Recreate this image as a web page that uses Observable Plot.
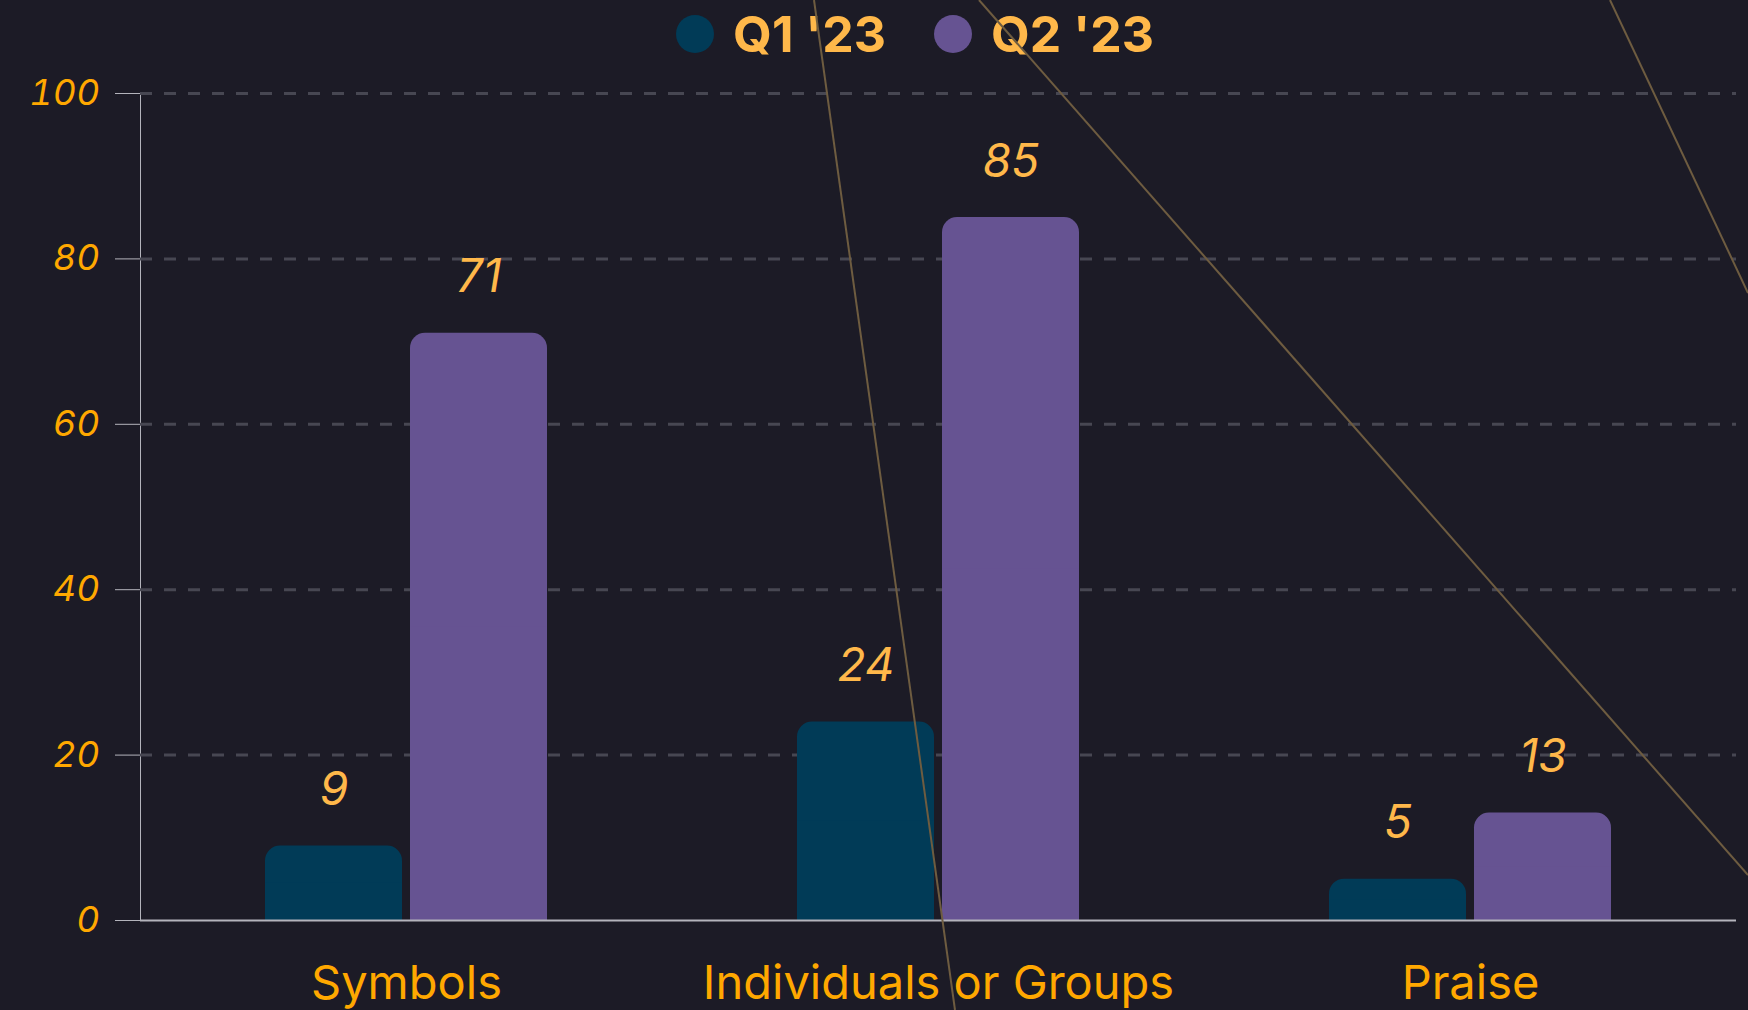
<!DOCTYPE html>
<html>
<head>
<meta charset="utf-8">
<script src="https://cdn.jsdelivr.net/npm/d3@7"></script>
<script src="https://cdn.jsdelivr.net/npm/@observablehq/plot@0.6"></script>
<style>
  html, body { margin: 0; padding: 0; background: #1c1b26; width: 1748px; height: 1010px; overflow: hidden; }
  #wrap { position: relative; width: 1748px; height: 1010px; }
  #legend { height: 68px; display: flex; align-items: center; justify-content: center; padding-left: 82px; box-sizing: border-box;
            font-family: Inter, "Noto Sans", sans-serif; font-weight: 700; font-size: 50px; color: #ffb84a; }
  #legend .item { display: flex; align-items: center; margin: 0 24px; }
  #legend .sw { width: 38px; height: 38px; border-radius: 50%; margin-right: 19px; }
  #chart svg { display: block; }
  #chart svg g[aria-label^="y-axis"] text { font-size: 36px; font-style: italic; fill: #ffa800; }
  #chart svg g[aria-label^="fx-axis"] text { font-size: 47px; fill: #ffa800; }
  #deco { position: absolute; left: 0; top: 0; pointer-events: none; }
</style>
</head>
<body>
<div id="wrap">
  <div id="legend"></div>
  <div id="chart"></div>
  <svg id="deco" width="1748" height="1010" viewBox="0 0 1748 1010">
    <g stroke="#6e5c40" stroke-width="2" fill="none">
      <line x1="814" y1="0" x2="955" y2="1010"></line>
      <line x1="979" y1="0" x2="1748" y2="875"></line>
      <line x1="1610" y1="0" x2="1748" y2="293"></line>
    </g>
  </svg>
</div>
<script>
// ---- data ----
const categories = ["Symbols", "Individuals or Groups", "Praise"];
const series = ["Q1 '23", "Q2 '23"];
const q1Values = [9, 24, 5];
const q2Values = [71, 85, 13];
const yTicks = [0, 20, 40, 60, 80, 100];
const seriesColors = ["#013b57", "#665392"];

// table built from the arrays
const rows = [];
categories.forEach((c, i) => {
  rows.push({category: c, series: series[0], value: q1Values[i]});
  rows.push({category: c, series: series[1], value: q2Values[i]});
});

// legend
const legend = document.getElementById("legend");
series.forEach((s, i) => {
  const item = document.createElement("div");
  item.className = "item";
  const sw = document.createElement("div");
  sw.className = "sw";
  sw.style.background = seriesColors[i];
  const label = document.createElement("span");
  label.textContent = s;
  item.appendChild(sw);
  item.appendChild(label);
  legend.appendChild(item);
});

const chart = Plot.plot({
  width: 1748,
  height: 942,
  marginLeft: 139,
  marginRight: 11,
  marginTop: 25,
  marginBottom: 90,
  style: { background: "transparent", color: "#b4b4bc", fontFamily: "Inter, 'Noto Sans', sans-serif" },
  fx: { domain: categories, padding: 0, axis: "bottom", tickSize: 0, tickPadding: 45, label: null },
  x: { domain: series, paddingInner: 0.055, paddingOuter: 0.85, axis: null },
  y: { domain: [0, 100], ticks: 5, tickSize: 25, tickPadding: 16, label: null, line: true },
  color: { domain: series, range: seriesColors },
  marks: [
    Plot.ruleY(yTicks.filter(d => d > 0), { stroke: "#474752", strokeWidth: 3, strokeDasharray: "12,12" }),
    Plot.barY(rows, { fx: "category", x: "series", y1: 0, y2: "value", fill: "series", rx: 15 }),
    Plot.barY(rows, { fx: "category", x: "series", y1: 0, y2: d => d.value / 2, fill: "series" }),
    Plot.ruleY([0], { stroke: "#b4b4bc", strokeWidth: 2 }),
    Plot.text(rows, { fx: "category", x: "series", y: "value", text: d => String(d.value), dy: -41, lineAnchor: "bottom",
                      fontSize: 46, fontStyle: "italic", fill: "#ffb84a" })
  ]
});
document.getElementById("chart").appendChild(chart);
</script>
</body>
</html>
